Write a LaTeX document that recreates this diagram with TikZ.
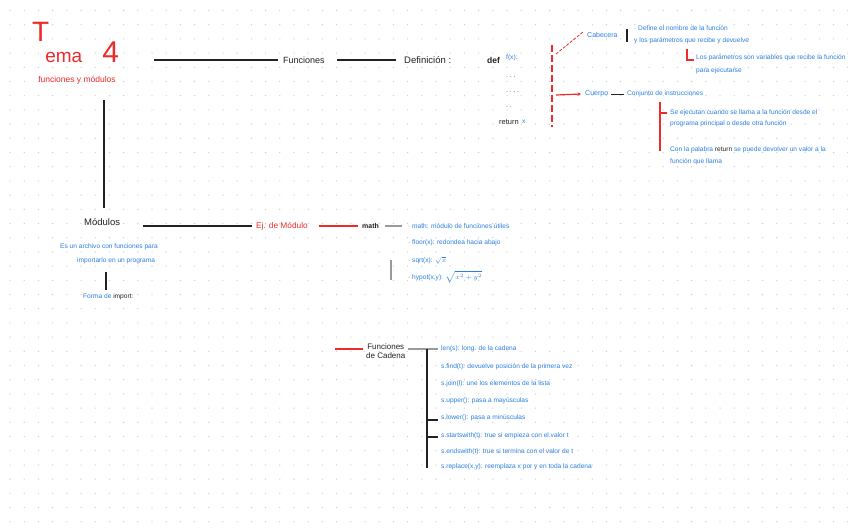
\documentclass[tikz,border=0pt]{standalone}
\usepackage{fontspec}
\setmainfont{Liberation Sans}
\usetikzlibrary{arrows.meta}
\definecolor{inkblue}{HTML}{2A7FE0}
\definecolor{inkred}{HTML}{EC2B2B}
\definecolor{dotc}{HTML}{CACACA}
\definecolor{ink}{HTML}{222222}
\definecolor{inkgray}{HTML}{9A9A9A}
\tikzset{
  txt/.style={inner sep=0pt, anchor=west, font=\fontsize{6.6}{7.6}\selectfont},
  bl/.style={txt, text=inkblue},
  rd/.style={txt, text=inkred},
  bk/.style={txt, text=ink},
  big/.style={font=\fontsize{9}{10.5}\selectfont},
  mid/.style={font=\fontsize{7}{8}\selectfont},
  conn/.style={draw=ink, line width=1.2pt},
  rconn/.style={draw=inkred, line width=1.2pt},
  gconn/.style={draw=inkgray, line width=1.1pt}
}
\begin{document}
\begin{tikzpicture}[x=1pt,y=-1pt]
\useasboundingbox (0,0) rectangle (848,530);
\fill[white] (0,0) rectangle (848,530);
\foreach \i in {0,...,59}{\foreach \j in {0,...,36}{\fill[dotc] (10+14.2*\i,10.5+14.2*\j) circle (0.65pt);}}

% ---------- title ----------
\node[rd, anchor=base west, font=\fontsize{19}{19}\selectfont] (tema) at (32,62)
  {\raisebox{21pt}{\fontsize{28}{28}\selectfont T}\hspace{-4pt}ema\hspace{20pt}{\fontsize{30}{30}\selectfont 4}};
\node[rd, anchor=center, font=\fontsize{8.5}{10}\selectfont] (temasub) at (77,80) {funciones y módulos};

% ---------- funciones ----------
\node[bk, big] (funciones) at (283,60) {Funciones};
\node[bk, font=\fontsize{9.5}{11}\selectfont] (definicion) at (404,60) {Definición\ :};
\coordinate (t1) at (154,60);
\coordinate (f1) at (337,60);
\draw[conn] (t1) -- ([xshift=-5pt]funciones.west);
\draw[conn] (f1) -- ([xshift=-8pt]definicion.west);

% code block
\node[bk, font=\fontsize{8.5}{9}\selectfont\bfseries] (kdef) at (487,60) {def};
\node[bl] (kname) at (506,58) {f(x):};
\node[bk, font=\fontsize{6}{7}\selectfont] (kl1) at (506,78) {· · ·};
\node[bk, font=\fontsize{6}{7}\selectfont] (kl2) at (506,93) {· · · ·};
\node[bk, font=\fontsize{6}{7}\selectfont] (kl3) at (506,108) {· ·};
\node[bk, font=\fontsize{7.5}{8}\selectfont] (kret) at (499,122) {return};
\node[bl] (kretv) at ([xshift=3pt]kret.east) {x};

% red dashed brace
\coordinate (rb1) at (552,45);
\coordinate (rb2) at (552,127);
\draw[rconn, line width=1.3pt, dash pattern=on 7pt off 3pt] (rb1) -- (rb2);
\coordinate (rbc) at (556,54);
\coordinate (rbb) at (556,95);

\node[bl, mid] (cab) at (587,35) {Cabecera};
\draw[rconn, line width=0.8pt, dash pattern=on 3pt off 1.5pt] (rbc) -- ([xshift=-4pt,yshift=3pt]cab.west);
\coordinate (bar1) at (627,29);
\coordinate (bar2) at (627,42);
\draw[conn, line width=1.5pt] (bar1) -- (bar2);
\node[bl] (cab1) at (634,28) {· Define el nombre de la función};
\node[bl] (cab2) at (634,41) {y los parámetros que recibe y devuelve};
\node[bl] (par1) at (696,58) {Los parámetros son variables que recibe la función};
\node[bl] (par2) at (696,71) {para ejecutarse};
\coordinate (L1) at (687,49);
\coordinate (L2) at (687,60);
\draw[rconn, line width=1.4pt] (L1) -- (L2) -- ([xshift=-2pt]L2 -| par1.west);

\node[bl, mid] (cue) at (585,94) {Cuerpo};
\draw[rconn, -{Stealth[length=3.5pt,width=3.5pt]}] (rbb) -- ([xshift=-4pt]cue.west);
\node[bl] (conj) at (627,94) {Conjunto de instrucciones};
\draw[conn, line width=0.7pt] ([xshift=3pt]cue.east) -- ([xshift=-3pt]conj.west);
\node[bl] (cu1) at (670,113) {Se ejecutan cuando se llama a la función desde el};
\node[bl] (cu2) at (670,124) {programa principal o desde otra función};
\node[bl] (cu3) at (670,150) {Con la palabra \textcolor{ink}{return} se puede devolver un valor a la};
\node[bl] (cu4) at (670,162) {función que llama};
\coordinate (br1) at (660,102);
\coordinate (br2) at (660,151);
\coordinate (brt) at (660,113);
\draw[rconn, line width=1.3pt] (br1) -- (br2);
\draw[rconn] (brt) -- ([xshift=-3pt]cu1.west);

% ---------- modulos ----------
\node[bk, font=\fontsize{9.5}{11}\selectfont] (modulo) at (84,222) {Módulos};
\coordinate (m0) at (104,100);
\coordinate (m0b) at (104,208);
\draw[conn] (m0) -- (m0b);
\coordinate (m1) at (143,226);
\node[rd, font=\fontsize{8.3}{9}\selectfont] (ejmod) at (256,226) {Ej. de Módulo};
\draw[conn] (m1) -- ([xshift=-4pt]ejmod.west);
\coordinate (e1) at (319,226);
\node[bk, font=\fontsize{7}{8}\selectfont\bfseries] (mathn) at (362,226) {math};
\draw[rconn] (e1) -- ([xshift=-4pt]mathn.west);
\coordinate (g1) at (385,226);
\node[bl] (ml1) at (408,226) {· math: módulo de funciones útiles};
\node[bl] (ml2) at (408,243) {· floor(x): redondea hacia abajo};
\node[bl] (ml3) at (408,260) {· sqrt(x): $\sqrt{x}$};
\node[bl] (ml4) at (408,277) {· hypot(x,y): $\sqrt{x^2+y^2}$};
\draw[gconn] (g1) -- ([xshift=-6pt]ml1.west);
\coordinate (gv1) at (391,260);
\coordinate (gv2) at (391,280);
\draw[gconn] (gv1) -- (gv2);

\node[bl] (md1) at (60,247) {Es un archivo con funciones para};
\node[bl] (md2) at (77,261) {importarlo en un programa};
\coordinate (mv1) at (106,272);
\coordinate (mv2) at (106,290);
\draw[conn] (mv1) -- (mv2);
\node[bl] (imp) at (83,297) {Forma de \textcolor{ink}{import}:};

% ---------- funciones de cadena ----------
\node[bk, font=\fontsize{8}{9.5}\selectfont, align=center] (fc) at (366,351) {Funciones\\de Cadena};
\coordinate (r1) at (335,349);
\draw[rconn] (r1) -- ([xshift=-3pt]r1 -| fc.west);
\coordinate (g2) at (408,349);
\node[bl] (s1) at (441,349) {len(s): long. de la cadena};
\node[bl] (s2) at (441,367) {s.find(t): devuelve posición de la primera vez};
\node[bl] (s3) at (441,384) {s.join(l): une los elementos de la lista};
\node[bl] (s4) at (441,401) {s.upper(): pasa a mayúsculas};
\node[bl] (s5) at (441,418) {s.lower(): pasa a minúsculas};
\node[bl] (s6) at (441,436) {s.startswith(t): true si empieza con el valor t};
\node[bl] (s7) at (441,452) {s.endswith(t): true si termina con el valor de t};
\node[bl] (s8) at (441,467) {s.replace(x,y): reemplaza x por y en toda la cadena};
\draw[gconn] (g2) -- ([xshift=-3pt]s1.west);
\coordinate (v1) at (427,349);
\coordinate (v2) at (427,468);
\draw[conn] (v1) -- (v2);
\coordinate (tk1) at (427,420);
\coordinate (tk2) at (427,437);
\draw[conn] (tk1) -- ([xshift=-3pt]tk1 -| s5.west);
\draw[conn] (tk2) -- ([xshift=-3pt]tk2 -| s6.west);
\end{tikzpicture}
\end{document}
